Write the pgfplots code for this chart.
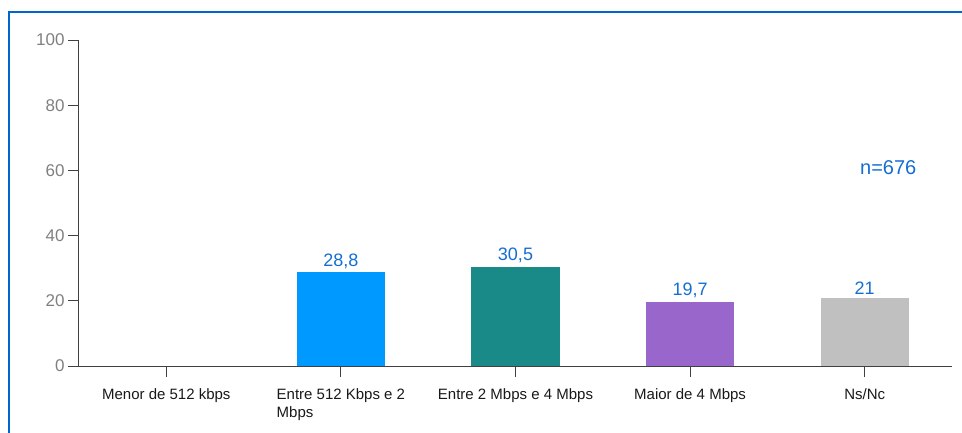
\documentclass[border=0pt]{standalone}
\usepackage{pgfplots}
\pgfplotsset{compat=1.18}
\usepackage{fontspec}
\setmainfont{Liberation Sans}

\definecolor{frameblue}{RGB}{0,102,204}
\definecolor{lblblue}{RGB}{20,110,210}
\definecolor{cblue}{RGB}{0,153,255}
\definecolor{cteal}{RGB}{26,138,136}
\definecolor{cpurple}{RGB}{153,102,204}
\definecolor{cgrey}{RGB}{192,192,192}
\definecolor{axgrey}{RGB}{64,64,64}
\definecolor{tickgrey}{RGB}{128,128,128}

\begin{document}
\begin{tikzpicture}
\useasboundingbox (-79pt,-66pt) rectangle (883pt,366pt);
\draw[frameblue, line width=1.3pt] (-70pt,-80pt) -- (-70pt,354pt) -- (900pt,354pt);
\begin{axis}[
    scale only axis,
    width=873pt, height=326pt,
    xmin=-0.5, xmax=4.5,
    ymin=0, ymax=100,
    axis x line*=bottom,
    axis y line*=left,
    axis line style={axgrey, line width=1pt},
    tick align=outside,
    major tick length=11pt,
    tick style={axgrey, line width=1pt},
    xtick={0,1,2,3,4},
    xticklabels={Menor de 512 kbps, {Entre 512 Kbps e 2\\Mbps}, Entre 2 Mbps e 4 Mbps, Maior de 4 Mbps, Ns/Nc},
    xticklabel style={align=left, font=\fontsize{15}{18}\selectfont, text=black!90, yshift=-8pt},
    ytick={0,20,40,60,80,100},
    yticklabel style={font=\fontsize{17}{20}\selectfont, text=tickgrey},
    /pgf/number format/assume math mode=true,
    ybar,
    bar width=88pt,
    bar shift=0pt,
    nodes near coords,
    nodes near coords style={font=\fontsize{18}{20}\selectfont, text=lblblue, /pgf/number format/use comma},
]
\addplot[draw=none, fill=cblue] coordinates {(1,28.8)};
\addplot[draw=none, fill=cteal] coordinates {(2,30.5)};
\addplot[draw=none, fill=cpurple] coordinates {(3,19.7)};
\addplot[draw=none, fill=cgrey] coordinates {(4,21)};
\node[text=lblblue, font=\fontsize{20}{22}\selectfont] at (axis cs:4.135,61) {n=676};
\end{axis}
\end{tikzpicture}
\end{document}
